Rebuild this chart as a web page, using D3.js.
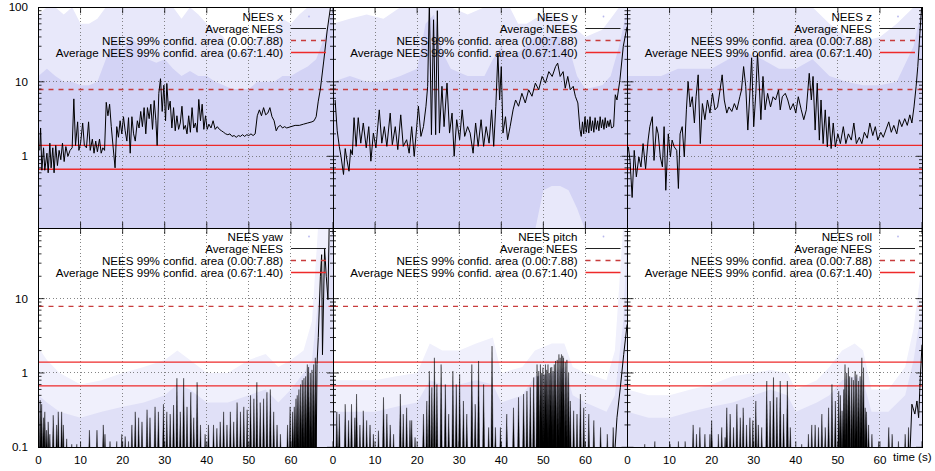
<!DOCTYPE html>
<html>
<head>
<meta charset="utf-8">
<script src="https://cdn.jsdelivr.net/npm/d3@7"></script>
<style>
  body { margin: 0; background: #fff; }
  svg { display: block; font-family: "Liberation Sans", Arial, Helvetica, sans-serif; }
</style>
</head>
<body>
<div id="chart"></div>
<script>
// ---- data ----
const xTicks = [0, 10, 20, 30, 40, 50, 60];
const yTicksTop = [1, 10, 100];
const yTicksBottom = [0.1, 1, 10];
const neesBound = 7.88;
const avgBounds = [0.67, 1.40];

// average NEES (t [s], value) for the position panels
const avgX = [[0.3,1.2],[0.5,2.4],[0.8,0.65],[1.2,1.3],[1.5,0.65],[2.0,1.1],[2.3,0.6],[2.7,1.5],[3.0,0.7],[3.4,1.3],[3.7,0.6],[4.1,1.4],[4.5,0.75],[4.9,1.2],[5.3,0.9],[5.7,1.5],[6.1,0.85],[6.5,1.35],[7.0,1.0],[7.5,1.2],[8.0,1.3],[8.4,5.9],[8.8,1.4],[9.3,2.9],[9.6,1.2],[10.0,1.5],[10.5,2.8],[10.9,1.4],[11.4,1.3],[11.9,2.9],[12.3,1.2],[12.8,1.7],[13.2,1.1],[13.6,1.6],[14.0,1.15],[14.5,1.7],[14.9,1.1],[15.3,1.3],[15.7,1.2],[16.1,5.3],[16.5,3.5],[16.9,5.0],[17.3,2.5],[17.7,1.4],[18.2,0.7],[18.6,2.5],[19.0,1.8],[19.4,3.0],[19.8,2.0],[20.2,3.4],[20.6,2.2],[21.0,1.6],[21.4,3.3],[21.8,1.1],[22.2,3.4],[22.6,2.0],[23.0,1.6],[23.5,3.0],[23.9,2.4],[24.3,4.0],[24.7,2.5],[25.1,4.5],[25.5,2.0],[25.9,4.5],[26.3,3.2],[26.7,5.0],[27.1,2.3],[27.5,5.6],[27.9,3.0],[28.2,1.4],[28.6,7.0],[29.0,11.0],[29.4,4.0],[29.8,9.0],[30.2,3.0],[30.5,9.5],[30.9,4.2],[31.3,5.5],[31.7,2.4],[32.1,4.5],[32.5,2.2],[32.9,3.5],[33.3,2.3],[33.7,2.8],[34.1,4.7],[34.5,2.3],[34.9,2.6],[35.3,2.0],[35.7,3.5],[36.1,2.1],[36.5,4.5],[36.9,2.4],[37.3,2.8],[37.7,2.1],[38.1,5.8],[38.5,3.0],[38.9,5.0],[39.3,2.3],[39.7,3.5],[40.1,2.3],[40.5,2.7],[41.0,2.4],[41.5,3.0],[42.0,2.3],[42.5,2.5],[43.0,2.3],[43.5,2.2],[44.0,2.1],[44.5,2.0],[45.0,1.95],[45.5,2.0],[46.0,1.85],[46.5,1.9],[47.0,1.8],[47.5,1.9],[48.0,1.85],[48.5,1.95],[49.0,1.85],[49.5,1.95],[50.0,1.9],[50.5,2.0],[51.0,1.9],[51.5,2.0],[52.0,3.5],[52.5,4.2],[53.0,3.5],[53.5,4.5],[54.0,3.6],[54.5,3.8],[55.0,4.5],[55.5,3.4],[56.0,3.0],[56.5,2.2],[57.0,2.5],[57.5,2.6],[58.0,2.4],[58.5,2.5],[59.0,2.4],[60.0,2.5],[61.0,2.6],[62.0,2.6],[63.0,2.7],[64.0,2.8],[65.0,2.9],[65.5,3.0],[66.0,3.4],[66.5,5.5],[67.0,8],[67.8,19],[68.6,48],[69.4,100],[69.7,150]];

const avgY = [[0.5,5.7],[1.0,2.2],[1.5,1.35],[1.9,1.0],[2.5,0.57],[2.9,1.27],[3.3,0.9],[3.8,0.63],[4.2,1.23],[4.6,1.05],[5.0,3.3],[5.5,1.36],[6.0,3.3],[6.6,1.5],[7.2,2.8],[7.9,1.3],[8.5,2.5],[9.0,0.86],[9.6,2.05],[10.2,1.3],[11.0,4.2],[11.6,1.5],[12.2,2.5],[12.8,1.36],[13.6,3.8],[14.1,1.43],[14.8,2.5],[15.4,1.23],[16.1,3.6],[16.7,1.36],[17.5,1.67],[18.1,1.1],[18.7,2.5],[19.3,1.0],[19.9,2.5],[20.3,4.7],[20.9,1.85],[21.5,2.5],[22.1,4.7],[22.5,8.7],[22.9,120],[23.4,1.95],[23.9,68],[24.4,1.95],[24.8,90],[25.3,2.05],[25.9,8.7],[26.4,2.5],[27.1,9.6],[27.7,2.05],[28.3,3.8],[28.8,1.0],[29.4,3.1],[30.1,1.67],[30.7,4.2],[31.3,1.85],[32.0,2.5],[32.6,2.05],[33.3,1.1],[33.9,2.8],[34.5,1.36],[35.2,3.1],[35.8,1.36],[36.4,2.5],[37.1,1.5],[37.7,4.2],[38.2,1.36],[38.7,4.7],[39.2,24],[39.6,5.7],[40.0,16],[40.4,2.05],[41.0,3.4],[41.5,1.67],[42.1,2.5],[42.8,4.2],[43.4,5.7],[44.1,4.7],[44.9,7.0],[45.7,5.2],[46.5,7.8],[47.3,6.4],[48.1,9.6],[48.9,7.8],[49.7,11.8],[50.5,9.6],[51.3,13.7],[52.1,11.8],[52.9,16],[53.4,17.8],[54.0,11.8],[54.7,13.7],[55.2,8.2],[55.8,11.8],[56.4,7.8],[57.1,8.7],[57.6,6.4],[58.2,5.2],[58.7,2.3],[59.0,1.85],[59.3,2.9],[59.6,2.0],[59.9,3.4],[60.2,2.1],[60.5,3.1],[60.8,2.05],[61.1,3.4],[61.4,2.2],[61.7,3.0],[62.0,2.1],[62.3,3.3],[62.6,2.3],[62.9,3.0],[63.2,2.2],[63.5,3.4],[63.8,2.4],[64.1,3.1],[64.4,2.3],[64.7,3.3],[65.0,2.4],[65.3,3.0],[65.6,2.5],[65.9,3.1],[66.2,2.4],[66.7,2.5],[67.1,6.7],[67.5,5.7],[68.2,10.6],[69.0,30],[69.9,55]];

const avgZ = [[0.2,1.34],[0.6,0.88],[1.1,0.28],[1.6,1.2],[2.1,0.53],[2.7,0.98],[3.2,0.72],[3.7,1.48],[4.3,0.68],[4.9,1.65],[5.3,2.5],[5.9,3.4],[6.3,0.88],[6.9,2.5],[7.3,2.0],[7.8,0.98],[8.3,0.72],[8.7,2.5],[9.1,0.35],[9.7,2.0],[10.2,0.98],[10.6,1.65],[11.1,1.34],[11.7,1.2],[12.1,0.37],[12.5,2.0],[13.0,2.5],[13.5,0.98],[14.0,4.2],[14.4,10.1],[14.9,4.6],[15.4,6.3],[15.9,2.8],[16.3,6.3],[16.8,12.4],[17.3,1.48],[17.8,5.1],[18.4,3.1],[19.0,5.7],[19.6,3.8],[20.2,7.0],[20.8,4.2],[21.4,4.6],[22.0,7.8],[22.5,12.4],[23.0,5.7],[23.6,3.8],[24.1,4.6],[24.8,4.0],[25.4,5.1],[26.0,4.2],[26.7,6.3],[27.1,7.8],[27.6,16],[28.1,8.7],[28.6,2.25],[29.0,5.7],[29.5,21],[30.0,2.5],[30.5,7.0],[30.9,24],[31.3,9.6],[31.7,3.1],[32.2,11.8],[32.7,4.2],[33.3,7.0],[34.0,4.6],[34.6,6.3],[35.2,5.7],[35.9,7.8],[36.3,4.2],[36.8,6.3],[37.5,7.0],[38.1,5.7],[38.7,4.2],[39.4,5.1],[40.0,3.8],[40.6,6.3],[41.3,4.2],[41.9,3.1],[42.5,4.2],[43.2,13],[43.7,5.7],[44.1,11.8],[44.6,2.25],[45.1,9.6],[45.6,1.65],[46.0,5.7],[46.5,1.48],[47.0,4.2],[47.5,1.34],[47.9,3.4],[48.4,1.27],[48.9,2.8],[49.4,1.34],[50.0,2.0],[50.6,1.48],[51.3,2.5],[51.9,1.48],[52.5,2.0],[53.2,1.65],[53.8,2.8],[54.4,1.48],[55.1,1.8],[55.7,1.48],[56.3,2.1],[57.0,1.75],[57.6,2.8],[58.3,1.9],[58.9,2.5],[59.5,1.65],[60.2,2.1],[60.8,1.8],[61.4,2.25],[62.1,2.9],[62.7,2.1],[63.3,2.6],[64.0,2.0],[64.6,3.1],[65.2,2.5],[65.9,3.2],[66.5,2.6],[67.1,3.6],[67.6,2.8],[68.1,4.6],[68.6,8.7],[69.0,16],[69.5,45],[70.0,120]];

// average NEES for the attitude panels: spike peaks (t, value) plus the final rise
const spikesYaw = [[0.4,0.43],[0.75,0.38],[1.2,0.25],[1.5,0.3],[1.9,0.17],[2.3,0.22],[2.7,0.15],[3.5,0.27],[4.3,0.2],[4.7,0.3],[5.5,0.3],[5.9,0.2],[6.7,0.13],[7.9,0.11],[9.1,0.11],[12.1,0.17],[13.9,0.17],[15.4,0.2],[15.8,0.15],[17.0,0.12],[18.6,0.12],[19.8,0.15],[20.6,0.14],[21.4,0.12],[22.2,0.2],[23.0,0.3],[23.8,0.25],[24.6,0.22],[25.8,0.32],[26.5,0.25],[27.7,0.35],[28.5,0.3],[29.7,0.38],[30.5,0.3],[31.3,0.28],[32.1,0.37],[32.9,0.85],[33.7,0.3],[34.5,0.85],[35.3,0.35],[36.2,0.55],[36.9,0.25],[37.7,0.75],[38.5,0.2],[39.6,0.15],[40.4,0.2],[41.6,0.2],[42.4,0.18],[43.2,0.22],[44.0,0.3],[44.8,0.2],[45.6,0.3],[46.4,0.22],[47.2,0.4],[48.0,0.3],[48.8,0.35],[49.6,0.32],[50.4,0.5],[51.2,0.45],[51.9,0.75],[52.7,0.4],[53.5,0.45],[54.3,0.55],[55.1,0.6],[55.9,0.3],[56.7,0.2],[57.5,0.15],[59.2,0.2],[59.8,0.35],[60.4,0.3],[60.8,0.35],[61.2,0.45],[61.5,0.5],[61.9,0.6],[62.3,0.7],[62.7,0.8],[63.1,0.85],[63.5,0.9],[63.9,1.3],[64.2,1.2],[64.6,1.0],[65.0,1.1],[65.4,1.3],[65.8,1.6]];
const tailYaw = [[66.0,0.08],[66.2,1.3],[66.5,3],[67.0,20],[67.3,39],[67.5,1.76],[68.0,48],[68.4,20],[68.8,9.7],[69.1,100],[69.3,300]];

const spikesPitch = [[0.9,0.3],[1.5,0.28],[2.9,0.38],[3.7,0.23],[4.4,0.38],[5.2,0.25],[5.6,0.52],[6.4,0.2],[7.2,0.31],[8.0,0.23],[8.8,0.2],[9.6,0.15],[10.8,0.167],[12.0,0.47],[12.8,0.28],[13.6,0.2],[14.4,0.15],[16.0,0.52],[16.7,0.28],[17.5,0.34],[18.3,0.23],[18.7,0.23],[19.5,0.136],[21.5,0.28],[22.3,0.42],[22.9,1.06],[23.5,0.64],[24.1,1.6],[24.7,0.7],[25.7,1.3],[26.7,0.7],[27.5,0.28],[28.5,1.06],[29.3,0.7],[30.1,0.96],[31.0,0.42],[31.8,0.28],[33.0,1.3],[33.8,0.38],[34.6,1.45],[35.8,0.7],[37.0,0.185],[37.8,2.3],[38.6,0.185],[39.8,0.185],[41.3,0.28],[42.9,0.34],[44.1,0.47],[45.3,0.52],[46.1,0.57],[46.9,0.64],[47.7,0.87],[48.5,1.3],[48.7,0.9],[48.9,1.06],[49.3,1.3],[49.6,1.0],[49.9,1.18],[50.2,0.95],[50.5,1.3],[50.8,1.1],[51.1,1.3],[51.4,1.0],[51.7,1.18],[52.0,1.2],[52.3,1.06],[52.6,1.3],[52.9,1.45],[53.3,1.5],[53.7,1.78],[54.0,1.6],[54.3,1.78],[54.6,1.7],[54.8,1.6],[55.2,1.4],[55.6,1.5],[56.0,1.0],[56.4,0.42],[57.2,0.31],[58.0,0.28],[58.8,0.52],[59.6,0.34],[60.8,0.28],[62.0,0.23],[63.6,0.185],[65.2,0.15],[66.6,0.185]];
const tailPitch = [[67.0,0.09],[67.5,0.25],[68.3,0.64],[69.1,1.78],[69.9,4.5]];

const spikesRoll = [[4.1,0.11],[6.5,0.12],[10.1,0.11],[12.1,0.12],[13.7,0.12],[15.6,0.2],[16.4,0.15],[17.2,0.185],[18.4,0.15],[19.6,0.15],[20.0,0.23],[21.6,0.15],[22.4,0.185],[23.2,0.136],[23.6,0.34],[24.4,0.28],[25.2,0.185],[26.0,0.38],[26.8,0.25],[27.5,0.34],[28.3,0.2],[29.1,0.25],[29.8,0.23],[30.5,0.42],[31.1,0.2],[31.9,0.185],[33.1,0.78],[33.9,0.42],[34.7,0.87],[35.5,0.47],[36.3,0.78],[37.1,0.28],[38.0,0.78],[38.7,0.185],[41.4,0.11],[43.0,0.15],[43.8,0.2],[44.6,0.2],[45.4,0.185],[46.2,0.28],[47.0,0.185],[47.8,0.34],[48.6,0.7],[49.4,0.42],[50.2,0.57],[50.6,0.5],[51.0,0.31],[51.4,0.6],[51.7,1.3],[52.1,1.0],[52.5,1.18],[52.8,0.9],[53.3,0.87],[53.7,0.8],[54.1,1.06],[54.5,0.95],[54.9,0.78],[55.3,0.9],[55.7,1.6],[56.1,1.18],[56.5,0.34],[56.8,0.3],[57.3,0.2],[58.1,0.15],[59.7,0.12],[62.1,0.185],[62.9,0.15],[64.4,0.12],[66.0,0.15],[66.8,0.185]];
const tailRoll = [[67.0,0.08],[67.2,0.1],[67.6,0.38],[68.3,0.28],[68.8,0.42],[69.2,0.25],[69.6,0.87],[70.0,2.4]];

// NEES point cloud envelope: (t, lower edge of dense part, top of dense part, top of sparse points)
const cloudX = [[0,0.1,12,80],[2,0.1,15,100],[4,0.1,12,100],[6,0.1,10,80],[8,0.1,10,100],[10,0.1,9,60],[12,0.1,9,60],[14,0.1,10,70],[16,0.1,20,100],[18,0.1,40,100],[20,0.1,25,100],[22,0.1,40,100],[24,0.1,30,100],[26,0.1,20,100],[28,0.1,18,100],[30,0.1,20,100],[32,0.1,15,100],[34,0.1,12,70],[36,0.1,14,100],[38,0.1,12,80],[40,0.1,12,60],[42,0.1,10,50],[44,0.1,9,40],[46,0.1,8,25],[48,0.1,8,25],[50,0.1,8,30],[52,0.1,10,40],[54,0.1,10,40],[56,0.1,10,50],[58,0.1,12,70],[60,0.1,12,60],[62,0.1,14,80],[64,0.1,16,100],[66,0.1,20,100],[68,0.1,40,100],[70,0.1,100,100]];
const cloudY = [[0,0.1,10,60],[4,0.1,12,70],[8,0.1,10,80],[12,0.1,10,70],[16,0.1,12,100],[20,0.1,15,100],[22,0.1,60,100],[24,0.1,80,100],[26,0.1,25,100],[28,0.1,15,100],[32,0.1,12,80],[36,0.1,12,100],[38,0.1,20,100],[40,0.1,30,100],[42,0.1,20,100],[44,0.1,25,60],[46,0.1,30,60],[48,0.1,40,70],[50,0.35,40,80],[52,0.4,40,80],[54,0.4,40,70],[56,0.35,30,60],[58,0.2,12,50],[60,0.1,8,40],[64,0.1,9,50],[66,0.1,12,70],[68,0.1,30,100],[70,0.1,100,100]];
const cloudZ = [[0,0.1,12,100],[4,0.1,12,100],[8,0.1,12,100],[12,0.1,15,100],[16,0.1,15,100],[20,0.1,15,100],[24,0.1,20,100],[28,0.1,25,100],[32,0.1,20,100],[36,0.1,15,100],[40,0.1,15,100],[44,0.1,20,100],[48,0.1,12,60],[52,0.1,10,40],[56,0.1,9,35],[60,0.1,9,40],[64,0.1,10,60],[68,0.1,30,100],[70,0.1,100,100]];
const cloudYaw = [[0,0.05,0.5,2.2],[2,0.05,0.4,1.5],[5,0.05,0.3,1.0],[10,0.05,0.25,0.7],[15,0.05,0.3,0.8],[20,0.05,0.35,1.0],[25,0.05,0.4,1.2],[30,0.05,0.5,1.5],[33,0.05,0.7,2.0],[36,0.05,0.6,1.5],[40,0.05,0.4,1.0],[45,0.05,0.4,1.0],[50,0.05,0.5,1.5],[54,0.05,0.6,1.8],[57,0.05,0.4,1.2],[60,0.05,0.6,1.5],[63,0.05,1.0,2.0],[65,0.05,1.5,5],[66.5,0.05,10,100],[70,0.05,100,100]];
const cloudPitch = [[0,0.05,0.3,0.8],[5,0.05,0.3,0.8],[10,0.05,0.3,0.8],[15,0.05,0.35,0.9],[20,0.05,0.4,1.0],[23,0.05,0.8,2.5],[26,0.05,0.7,2.0],[30,0.05,0.7,2.0],[34,0.05,0.8,2.5],[38,0.05,0.7,3.0],[40,0.05,0.4,1.0],[45,0.05,0.5,1.2],[48,0.05,0.9,2.0],[52,0.05,1.0,2.5],[55,0.05,1.2,2.5],[57,0.05,0.5,1.2],[60,0.05,0.4,1.0],[65,0.05,0.3,0.8],[67,0.05,0.5,2],[69,0.05,5,100],[70,0.05,100,100]];
const cloudRoll = [[0,0.05,0.3,0.6],[5,0.05,0.25,0.5],[10,0.05,0.25,0.5],[15,0.05,0.3,0.6],[20,0.05,0.35,0.7],[25,0.05,0.4,0.9],[30,0.05,0.5,1.0],[34,0.05,0.6,1.1],[38,0.05,0.5,1.0],[40,0.05,0.3,0.6],[45,0.05,0.4,0.8],[48,0.05,0.5,1.2],[51,0.05,0.8,2.0],[54,0.05,0.9,2.5],[56,0.05,0.8,2.0],[58,0.05,0.3,0.6],[62,0.05,0.3,0.6],[66,0.05,0.5,1.2],[68,0.05,1.5,4],[70,0.05,8,30]];

const panels = [
  { name: "NEES x", avg: avgX, cloud: cloudX },
  { name: "NEES y", avg: avgY, cloud: cloudY },
  { name: "NEES z", avg: avgZ, cloud: cloudZ },
  { name: "NEES yaw", spikes: spikesYaw, avg: tailYaw, cloud: cloudYaw },
  { name: "NEES pitch", spikes: spikesPitch, avg: tailPitch, cloud: cloudPitch },
  { name: "NEES roll", spikes: spikesRoll, avg: tailRoll, cloud: cloudRoll }
];
const legendLabels = ["Average NEES", "NEES 99% confid. area (0.00:7.88)", "Average NEES 99% confid. area (0.67:1.40)"];

// ---- layout ----
const W = 935, H = 471;
const colLeft = [38.5, 333, 627.5], colW = 294.5;
const rows = [
  { top: 7.3, bot: 230.8, clipTop: 7.3, clipBot: 228, ticks: yTicksTop, legendY: 16.5 },
  { top: 224.3, bot: 447.3, clipTop: 228, clipBot: 447.3, ticks: yTicksBottom, legendY: 236.5 }
];
const fontSize = "11.6px";
const cloudColors = [["#e8e8fa", "#d3d3f5"], ["#f0f0fc", "#e0e0f7"]];
const redSolid = "#ee2a2a", redDash = "#c83c3c";

const svg = d3.select("#chart").append("svg").attr("width", W).attr("height", H);
const defs = svg.append("defs");

panels.forEach((p, i) => {
  const c = i % 3, r = Math.floor(i / 3), row = rows[r];
  const x0 = colLeft[c], x1 = x0 + colW;
  const x = d3.scaleLinear().domain([0, 70]).range([x0, x1]);
  const y = d3.scaleLog().domain([0.1, 100]).range([row.bot, row.top]);

  defs.append("clipPath").attr("id", "clip" + i)
    .append("rect").attr("x", x0).attr("y", row.clipTop)
    .attr("width", colW).attr("height", row.clipBot - row.clipTop);

  const g = svg.append("g");
  const plot = g.append("g").attr("clip-path", "url(#clip" + i + ")");

  // point cloud as envelope bands
  const sparse = d3.area().x(d => x(d[0])).y0(y(0.05)).y1(d => y(d[3]));
  const dense = d3.area().x(d => x(d[0])).y0(d => y(d[1])).y1(d => y(d[2]));
  plot.append("path").attr("d", sparse(p.cloud)).attr("fill", cloudColors[r][0]);
  plot.append("path").attr("d", dense(p.cloud)).attr("fill", cloudColors[r][1]);

  // grid
  const grid = plot.append("g").attr("stroke", "#666").attr("stroke-width", 0.8)
    .attr("stroke-dasharray", "1,2.5").attr("shape-rendering", "crispEdges");
  xTicks.slice(1).forEach(t => {
    grid.append("line").attr("x1", x(t)).attr("x2", x(t)).attr("y1", row.clipTop).attr("y2", row.clipBot);
  });
  [1, 10].forEach(v => {
    grid.append("line").attr("x1", x0).attr("x2", x1).attr("y1", y(v)).attr("y2", y(v));
  });

  // confidence bounds
  plot.append("line").attr("x1", x0).attr("x2", x1)
    .attr("y1", y(neesBound)).attr("y2", y(neesBound))
    .attr("stroke", redDash).attr("stroke-width", 1.3).attr("stroke-dasharray", "5,5");
  avgBounds.forEach(v => {
    plot.append("line").attr("x1", x0).attr("x2", x1)
      .attr("y1", y(v)).attr("y2", y(v))
      .attr("stroke", redSolid).attr("stroke-width", 1.3);
  });

  // average NEES
  if (p.spikes) {
    const yb = y(0.05);
    plot.selectAll("path.spike").data(p.spikes).enter().append("path")
      .attr("class", "spike")
      .attr("d", d => `M${x(d[0] - 0.3)},${yb}L${x(d[0])},${y(d[1])}L${x(d[0] + 0.3)},${yb}Z`)
      .attr("fill", "#000").attr("stroke", "#000").attr("stroke-width", 0.4);
  }
  const line = d3.line().x(d => x(d[0])).y(d => y(d[1]));
  plot.append("path").attr("d", line(p.avg))
    .attr("fill", "none").attr("stroke", "#000").attr("stroke-width", 1);

  // border
  g.append("rect").attr("x", x0).attr("y", row.clipTop)
    .attr("width", colW).attr("height", row.clipBot - row.clipTop)
    .attr("fill", "none").attr("stroke", "#000").attr("stroke-width", 1)
    .attr("shape-rendering", "crispEdges");

  // tick marks (mirrored on both sides)
  const ticks = g.append("g").attr("clip-path", "url(#clip" + i + ")")
    .attr("stroke", "#000").attr("stroke-width", 0.8);
  [0.1, 1, 10, 100].forEach(dec => {
    for (let k = 1; k <= 9; k++) {
      const v = dec * k;
      if (v > 100) break;
      const len = k === 1 ? 6 : 3;
      ticks.append("line").attr("x1", x0).attr("x2", x0 + len).attr("y1", y(v)).attr("y2", y(v));
      ticks.append("line").attr("x1", x1).attr("x2", x1 - len).attr("y1", y(v)).attr("y2", y(v));
    }
  });
  xTicks.concat([70]).forEach(t => {
    ticks.append("line").attr("x1", x(t)).attr("x2", x(t)).attr("y1", row.clipBot).attr("y2", row.clipBot - 6);
    ticks.append("line").attr("x1", x(t)).attr("x2", x(t)).attr("y1", row.clipTop).attr("y2", row.clipTop + 6);
  });

  // tick labels
  if (c === 0) {
    row.ticks.forEach(v => {
      g.append("text").attr("x", 28).attr("y", y(v) + 4)
        .attr("text-anchor", "end").attr("font-size", fontSize).text(v);
    });
  }
  if (r === 1) {
    xTicks.forEach(t => {
      g.append("text").attr("x", x(t)).attr("y", 464)
        .attr("text-anchor", "middle").attr("font-size", fontSize).text(t);
    });
  }

  // legend
  const lx = x1 - 50;
  [p.name].concat(legendLabels).forEach((label, k) => {
    g.append("text").attr("x", lx).attr("y", row.legendY + k * 12 + 4)
      .attr("text-anchor", "end").attr("font-size", fontSize).attr("fill", "#000").text(label);
  });
  const ly = k => row.legendY + k * 12;
  g.append("circle").attr("cx", x1 - 24).attr("cy", ly(0)).attr("r", 0.9).attr("fill", "#b8b8ee");
  g.append("line").attr("x1", x1 - 42).attr("x2", x1 - 7).attr("y1", ly(1)).attr("y2", ly(1))
    .attr("stroke", "#222").attr("stroke-width", 1);
  g.append("line").attr("x1", x1 - 42).attr("x2", x1 - 7).attr("y1", ly(2)).attr("y2", ly(2))
    .attr("stroke", redDash).attr("stroke-width", 1.3).attr("stroke-dasharray", "5,5");
  g.append("line").attr("x1", x1 - 42).attr("x2", x1 - 7).attr("y1", ly(3)).attr("y2", ly(3))
    .attr("stroke", redSolid).attr("stroke-width", 1.3);
});

svg.append("text").attr("x", 893).attr("y", 461).attr("font-size", fontSize).text("time (s)");
</script>
</body>
</html>
